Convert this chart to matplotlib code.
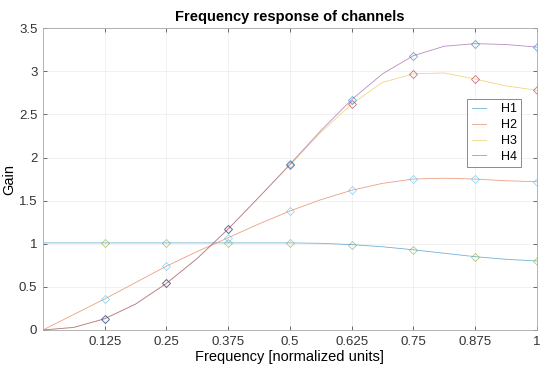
import matplotlib
import numpy as np

matplotlib.use("Agg")
import matplotlib.pyplot as plt

# frequency grid (normalized units)
freq = [0, 0.0625, 0.125, 0.1875, 0.25, 0.3125, 0.375, 0.4375, 0.5,
        0.5625, 0.625, 0.6875, 0.75, 0.8125, 0.875, 0.9375, 1.0]
h1 = [1.01, 1.01, 1.01, 1.01, 1.01, 1.01, 1.01, 1.01, 1.01,
      1.005, 0.99, 0.965, 0.93, 0.89, 0.85, 0.82, 0.80]
h2 = [0.0, 0.18, 0.36, 0.55, 0.74, 0.91, 1.07, 1.23, 1.38,
      1.51, 1.62, 1.70, 1.75, 1.76, 1.75, 1.73, 1.72]
h3 = [0.0, 0.03, 0.13, 0.30, 0.54, 0.83, 1.17, 1.54, 1.91,
      2.29, 2.62, 2.87, 2.97, 2.98, 2.91, 2.83, 2.78]
h4 = [0.0, 0.03, 0.13, 0.30, 0.54, 0.83, 1.17, 1.54, 1.92,
      2.31, 2.67, 2.97, 3.18, 3.29, 3.32, 3.31, 3.28]
labels = ["H1", "H2", "H3", "H4"]
xticks = [0.125, 0.25, 0.375, 0.5, 0.625, 0.75, 0.875, 1]
xticklabels = ["0.125", "0.25", "0.375", "0.5", "0.625", "0.75", "0.875", "1"]
yticks = [0, 0.5, 1, 1.5, 2, 2.5, 3, 3.5]
yticklabels = ["0", "0.5", "1", "1.5", "2", "2.5", "3", "3.5"]

line_colors = ["#0072BD", "#D95319", "#EDB120", "#7E2F8E"]
marker_colors = ["#77AC30", "#4DBEEE", "#A2142F", "#0072BD"]

plt.rcParams["font.family"] = ["Liberation Sans", "DejaVu Sans"]

fig = plt.figure(figsize=(5.5, 3.75), dpi=100)
ax = fig.add_axes([0.078, 0.12, 0.898, 0.805])

f = np.array(freq)
for series, label, lc in zip([h1, h2, h3, h4], labels, line_colors):
    ax.plot(f, series, color=lc, linewidth=0.6, alpha=0.55, label=label)

for series, mc in zip([h1, h2, h3, h4], marker_colors):
    s = np.array(series)
    ax.plot(f[2::2], s[2::2], linestyle="none", marker="D", markersize=4.5,
            markerfacecolor="none", markeredgecolor=mc, markeredgewidth=0.6,
            alpha=0.6)

ax.set_xlim(0, 1)
ax.set_ylim(0, 3.5)
ax.set_xticks(xticks)
ax.set_xticklabels(xticklabels)
ax.set_yticks(yticks)
ax.set_yticklabels(yticklabels)
ax.tick_params(direction="in", length=3, width=0.5, colors="#333333",
               labelsize=9.5, top=True, right=True, pad=4)
ax.grid(True, color="#ebebeb", linewidth=0.5)
for spine in ax.spines.values():
    spine.set_color("#a8a8a8")
    spine.set_linewidth(0.6)

ax.set_title("Frequency response of channels", fontsize=10.5,
             fontweight="bold", pad=5)
ax.set_xlabel("Frequency [normalized units]", fontsize=10.5, labelpad=2)
ax.set_ylabel("Gain", fontsize=10.5, labelpad=2)

leg = ax.legend(loc="upper right", bbox_to_anchor=(0.968, 0.765),
                fontsize=9, frameon=True, fancybox=False, handlelength=1.1,
                borderpad=0.35, labelspacing=0.3, handletextpad=1.2,
                borderaxespad=0)
leg.get_frame().set_edgecolor("#555555")
leg.get_frame().set_linewidth(0.6)

fig.savefig("out.png", dpi=100)
plt.close(fig)
